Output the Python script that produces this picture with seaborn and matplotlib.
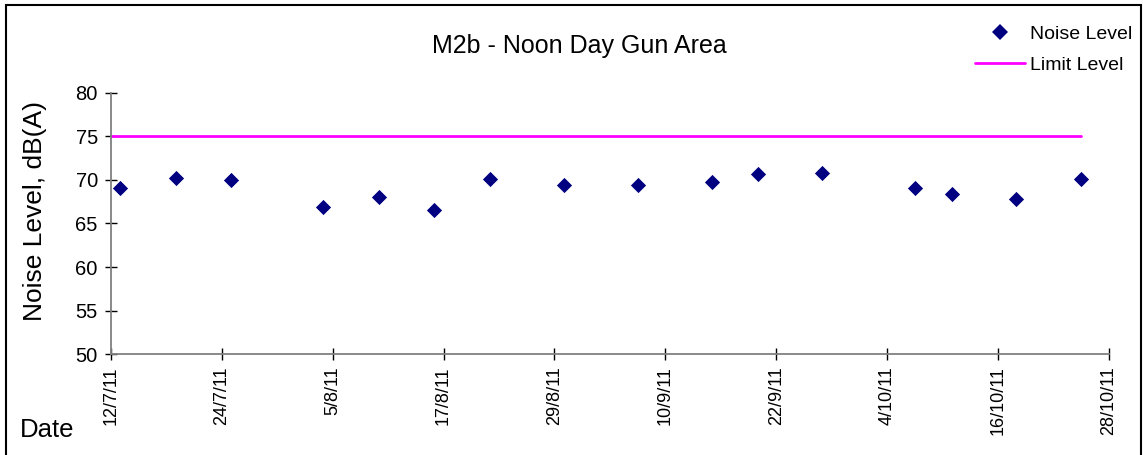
"""Noise level monitoring chart: M2b - Noon Day Gun Area."""

import matplotlib
matplotlib.use("Agg")
import matplotlib.pyplot as plt
import pandas as pd
import seaborn as sns
from matplotlib.lines import Line2D
from matplotlib.patches import Rectangle

# measurement dates and levels, dB(A)
dates = ["13/7/11", "19/7/11", "25/7/11", "4/8/11", "10/8/11", "16/8/11",
         "22/8/11", "30/8/11", "7/9/11", "15/9/11", "20/9/11", "27/9/11",
         "7/10/11", "11/10/11", "18/10/11", "25/10/11"]
noise_level = [69.0, 70.2, 70.0, 66.9, 68.0, 66.5, 70.1, 69.4,
               69.4, 69.7, 70.7, 70.8, 69.0, 68.4, 67.8, 70.1]

limit_dates = ["12/7/11", "25/10/11"]
limit_level = [75, 75]

x_start, x_end = "12/7/11", "28/10/11"

sns.set_theme(style="white", rc={"text.color": "black",
                                 "axes.labelcolor": "black",
                                 "xtick.color": "black",
                                 "ytick.color": "black"})
plt.rcParams["font.family"] = ["Liberation Sans", "DejaVu Sans"]


def to_dt(s):
    return pd.to_datetime(s, format="%d/%m/%y")


df = pd.DataFrame({"date": to_dt(dates), "level": noise_level})
lim = pd.DataFrame({"date": to_dt(limit_dates), "level": limit_level})

fig = plt.figure(figsize=(11.43, 4.55), dpi=100)
ax = fig.add_axes([0.0971, 0.2213, 0.873, 0.5754])

sns.lineplot(data=lim, x="date", y="level", color="#FF00FF", linewidth=2,
             ax=ax, legend=False)
sns.scatterplot(data=df, x="date", y="level", marker="D", s=60,
                color="#000080", linewidth=0, ax=ax, legend=False, zorder=3)

ax.set_ylim(50, 80)
ax.set_yticks(range(50, 81, 5))
ax.set_xlim(to_dt(x_start), to_dt(x_end))
xt = pd.date_range(to_dt(x_start), to_dt(x_end), freq="12D")
ax.set_xticks(xt)
ax.set_xticklabels([f"{d.day}/{d.month}/{d.strftime('%y')}" for d in xt],
                   rotation=90, fontsize=13)
ax.tick_params(axis="y", labelsize=14.5, pad=5)
ax.tick_params(axis="x", pad=4)
ax.tick_params(direction="inout", length=9, width=1, color="black",
               bottom=True, left=True)

for side in ["top", "right"]:
    ax.spines[side].set_visible(False)
for side in ["left", "bottom"]:
    ax.spines[side].set_color("#808080")
    ax.spines[side].set_linewidth(1.3)

ax.set_xlabel("")
ax.set_ylabel("Noise Level, dB(A)", fontsize=19)
ax.yaxis.set_label_coords(-0.064, 0.547)
ax.grid(False)

fig.text(0.5066, 0.9, "M2b - Noon Day Gun Area", fontsize=18,
         ha="center", va="center")
fig.text(0.0175, 0.04, "Date", fontsize=18.5, ha="left", va="baseline")

handles = [
    Line2D([], [], marker="D", color="#000080", linestyle="none",
           markersize=8, markeredgewidth=0),
    Line2D([], [], color="#FF00FF", linewidth=2),
]
fig.legend(handles, ["Noise Level", "Limit Level"], loc="upper left",
           bbox_to_anchor=(0.846, 0.962), frameon=False, fontsize=14,
           handlelength=2.6, handletextpad=0.25, labelspacing=0.7,
           borderaxespad=0)

fig.patches.append(Rectangle((0.005, -0.01), 0.993, 0.999,
                             transform=fig.transFigure, fill=False,
                             edgecolor="black", linewidth=1.5))

fig.savefig("out.png", dpi=100)
